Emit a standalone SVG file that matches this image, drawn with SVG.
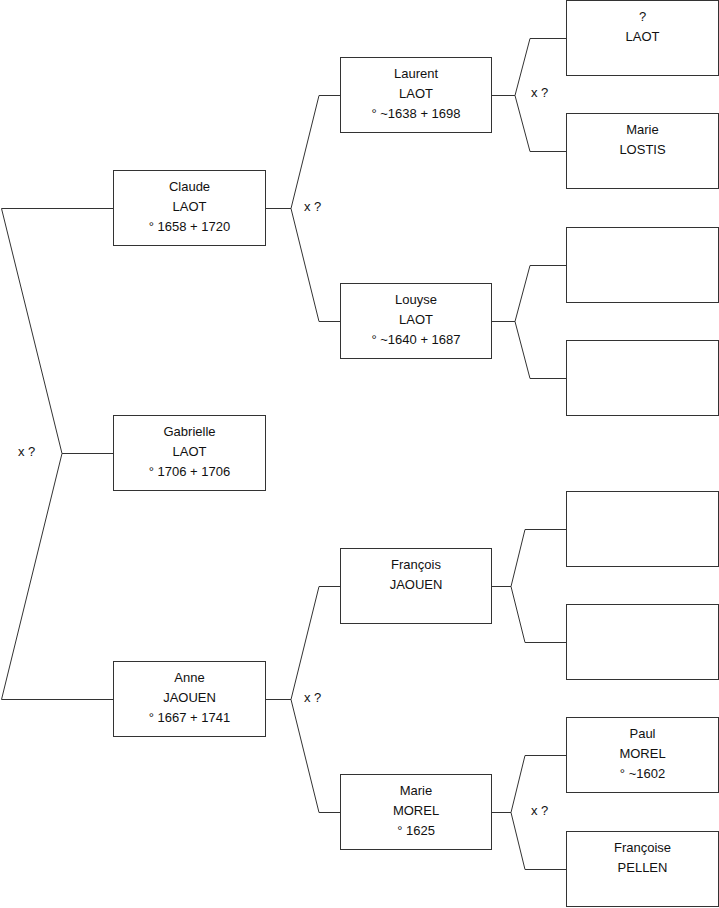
<svg xmlns="http://www.w3.org/2000/svg" width="719" height="908" viewBox="0 0 719 908">
<style>
.box{fill:#fff;stroke:#333;stroke-width:1}
.c{fill:none;stroke:#333;stroke-width:1}
text{font-family:"Liberation Sans",Arial,sans-serif;font-size:13px;fill:#111}
.m{text-anchor:middle}
</style>
<rect width="719" height="908" fill="#fff"/>
<g id="connectors">
<polyline class="c" points="114,208.5 1.5,208.5 62,453.5 1.5,699.5 114,699.5"/>
<line class="c" x1="62" y1="453.5" x2="114" y2="453.5"/>
<polyline class="c" points="265,208.5 291,208.5 319,95.5 341,95.5"/>
<polyline class="c" points="291,208.5 319,321.5 341,321.5"/>
<polyline class="c" points="265,699.5 291,699.5 319,586.5 341,586.5"/>
<polyline class="c" points="291,699.5 319,812.5 341,812.5"/>
<polyline class="c" points="491,95.5 515,95.5 530,38.5 567,38.5"/>
<polyline class="c" points="515,95.5 530,151.5 567,151.5"/>
<polyline class="c" points="491,321.5 515,321.5 530,265.5 567,265.5"/>
<polyline class="c" points="515,321.5 530,378.5 567,378.5"/>
<polyline class="c" points="491,586.5 511,586.5 525,529.5 567,529.5"/>
<polyline class="c" points="511,586.5 525,642.5 567,642.5"/>
<polyline class="c" points="491,812.5 511,812.5 525,755.5 567,755.5"/>
<polyline class="c" points="511,812.5 525,869.5 567,869.5"/>
<text x="18" y="456">x ?</text>
<text x="304" y="211">x ?</text>
<text x="304" y="702">x ?</text>
<text x="531" y="97">x ?</text>
<text x="531" y="815">x ?</text>
</g>
<g id="claude"><rect class="box" x="113.5" y="170.5" width="152" height="75"/>
<text class="m" x="189.5" y="191">Claude</text><text class="m" x="189.5" y="211">LAOT</text><text class="m" x="189.5" y="231">° 1658 + 1720</text></g>
<g id="gabrielle"><rect class="box" x="113.5" y="415.5" width="152" height="75"/>
<text class="m" x="189.5" y="436">Gabrielle</text><text class="m" x="189.5" y="456">LAOT</text><text class="m" x="189.5" y="476">° 1706 + 1706</text></g>
<g id="anne"><rect class="box" x="113.5" y="661.5" width="152" height="75"/>
<text class="m" x="189.5" y="682">Anne</text><text class="m" x="189.5" y="702">JAOUEN</text><text class="m" x="189.5" y="722">° 1667 + 1741</text></g>
<g id="laurent"><rect class="box" x="340.5" y="57.5" width="151" height="75"/>
<text class="m" x="416" y="78">Laurent</text><text class="m" x="416" y="98">LAOT</text><text class="m" x="416" y="118">° ~1638 + 1698</text></g>
<g id="louyse"><rect class="box" x="340.5" y="283.5" width="151" height="75"/>
<text class="m" x="416" y="304">Louyse</text><text class="m" x="416" y="324">LAOT</text><text class="m" x="416" y="344">° ~1640 + 1687</text></g>
<g id="francois"><rect class="box" x="340.5" y="548.5" width="151" height="75"/>
<text class="m" x="416" y="569">François</text><text class="m" x="416" y="589">JAOUEN</text></g>
<g id="marie-morel"><rect class="box" x="340.5" y="774.5" width="151" height="75"/>
<text class="m" x="416" y="795">Marie</text><text class="m" x="416" y="815">MOREL</text><text class="m" x="416" y="835">° 1625</text></g>
<g id="unknown-laot"><rect class="box" x="566.5" y="0.5" width="152" height="75"/>
<text class="m" x="642.5" y="21">?</text><text class="m" x="642.5" y="41">LAOT</text></g>
<g id="marie-lostis"><rect class="box" x="566.5" y="113.5" width="152" height="75"/>
<text class="m" x="642.5" y="134">Marie</text><text class="m" x="642.5" y="154">LOSTIS</text></g>
<g id="empty1"><rect class="box" x="566.5" y="227.5" width="152" height="75"/></g>
<g id="empty2"><rect class="box" x="566.5" y="340.5" width="152" height="75"/></g>
<g id="empty3"><rect class="box" x="566.5" y="491.5" width="152" height="75"/></g>
<g id="empty4"><rect class="box" x="566.5" y="604.5" width="152" height="75"/></g>
<g id="paul"><rect class="box" x="566.5" y="717.5" width="152" height="75"/>
<text class="m" x="642.5" y="738">Paul</text><text class="m" x="642.5" y="758">MOREL</text><text class="m" x="642.5" y="778">° ~1602</text></g>
<g id="francoise"><rect class="box" x="566.5" y="831.5" width="152" height="75"/>
<text class="m" x="642.5" y="852">Françoise</text><text class="m" x="642.5" y="872">PELLEN</text></g>
</svg>
